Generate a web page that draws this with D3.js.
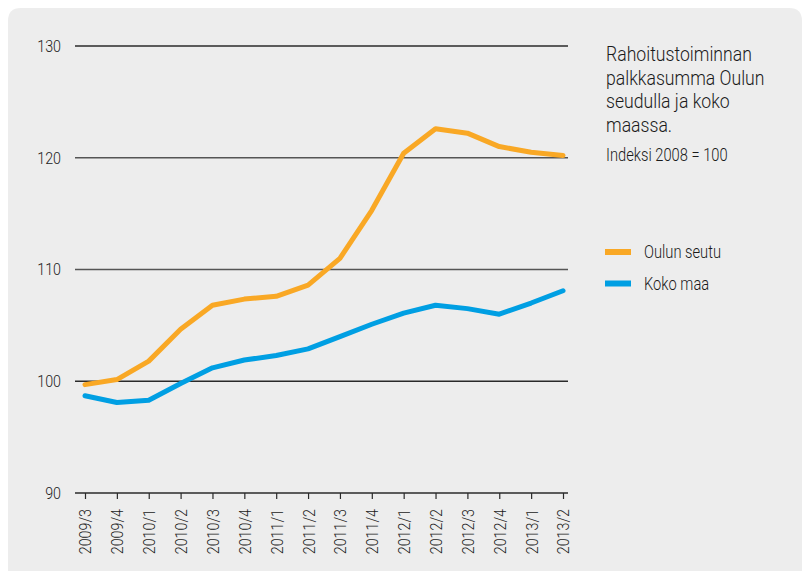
<!DOCTYPE html>
<html><head><meta charset="utf-8">
<script src="https://cdn.jsdelivr.net/npm/d3@7"></script>
<style>
html,body{margin:0;padding:0;background:#fff;}
svg{display:block;}
text{font-family:Roboto,"Liberation Sans",sans-serif;font-weight:300;fill:#1a1a1a;}
</style></head>
<body>
<svg id="chart" width="807" height="571"></svg>
<script>
const categories = ["2009/3","2009/4","2010/1","2010/2","2010/3","2010/4","2011/1","2011/2","2011/3","2011/4","2012/1","2012/2","2012/3","2012/4","2013/1","2013/2"];
const oulunSeutu = [99.7,100.15,101.8,104.65,106.8,107.35,107.6,108.6,111.0,115.3,120.4,122.6,122.2,121.0,120.5,120.2];
const kokoMaa = [98.7,98.1,98.3,99.8,101.2,101.9,102.3,102.9,104.0,105.1,106.1,106.8,106.5,106.0,107.0,108.1];
const yTicks = [90,100,110,120,130];
const seriesNames = ["Oulun seutu","Koko maa"];
const seriesColors = ["#F9A825","#009FE3"];
const titleLines = ["Rahoitustoiminnan","palkkasumma Oulun","seudulla ja koko","maassa."];
const subtitle = "Indeksi 2008 = 100";

const SX = 0.84;
const svg = d3.select("#chart");
svg.append("path")
  .attr("d", (() => { const x0=8,y0=8,x1=802,y1=580,r=13;
    return `M${x0},${y1} L${x0},${y0+r} Q${x0},${y0} ${x0+r},${y0} L${x1-r},${y0} Q${x1},${y0} ${x1},${y0+r} L${x1},${y1} Z`; })())
  .attr("fill","#ededed");

const x = d3.scalePoint().domain(categories).range([85,563]);
const y = d3.scaleLinear().domain([90,130]).range([493,46]);

svg.append("g").selectAll("line").data(yTicks.filter(d=>d!==90)).join("line")
  .attr("x1",75).attr("x2",568)
  .attr("y1",d=>y(d)).attr("y2",d=>y(d))
  .attr("stroke",d=>d===100||d===130?"#2a2a2a":"#555").attr("stroke-width",1.3);

svg.append("g").selectAll("text").data(yTicks).join("text")
  .attr("transform",d=>`translate(61,${y(d)}) scale(${SX},1)`)
  .attr("dy","0.35em").attr("text-anchor","end").attr("font-size",17).text(d=>d);

const xAxis = d3.axisBottom(x).tickSize(6).tickSizeOuter(0).tickPadding(5);
const gx = svg.append("g").attr("transform","translate(0,493)").call(xAxis);
gx.select(".domain").remove();
gx.append("line").attr("x1",75).attr("x2",568).attr("y1",0).attr("y2",0).attr("stroke","#2a2a2a").attr("stroke-width",1.3);
gx.selectAll(".tick line").attr("stroke","#2a2a2a").attr("stroke-width",1.2);
gx.selectAll(".tick text")
  .attr("font-size",17).attr("fill","#1a1a1a")
  .attr("font-family","Roboto,sans-serif").attr("font-weight",300)
  .attr("transform",`rotate(-90) scale(${SX},1)`).attr("text-anchor","end")
  .attr("x",-16/SX).attr("y",0).attr("dy","0.35em");

const line = d3.line().x((d,i)=>x(categories[i])).y(d=>y(d));
[oulunSeutu,kokoMaa].forEach((s,i)=>{
  svg.append("path").datum(s).attr("d",line)
    .attr("fill","none").attr("stroke",seriesColors[i]).attr("stroke-width",5)
    .attr("stroke-linejoin","round").attr("stroke-linecap","round");
});

svg.append("g").selectAll("text").data(titleLines).join("text")
  .attr("transform",(d,i)=>`translate(606,${61+i*23.5}) scale(${SX},1)`)
  .attr("font-size",21).text(d=>d);
svg.append("text").attr("transform",`translate(606,161) scale(${SX},1)`).attr("font-size",17.5).text(subtitle);

const lg = svg.append("g").selectAll("g").data(seriesNames).join("g")
  .attr("transform",(d,i)=>`translate(605,${252+i*31.5})`);
lg.append("rect").attr("x",0).attr("y",-3).attr("width",26).attr("height",6).attr("fill",(d,i)=>seriesColors[i]);
lg.append("text").attr("transform",`translate(39,0) scale(${SX},1)`).attr("dy","0.35em").attr("font-size",17.5).text(d=>d);
</script>
</body></html>
